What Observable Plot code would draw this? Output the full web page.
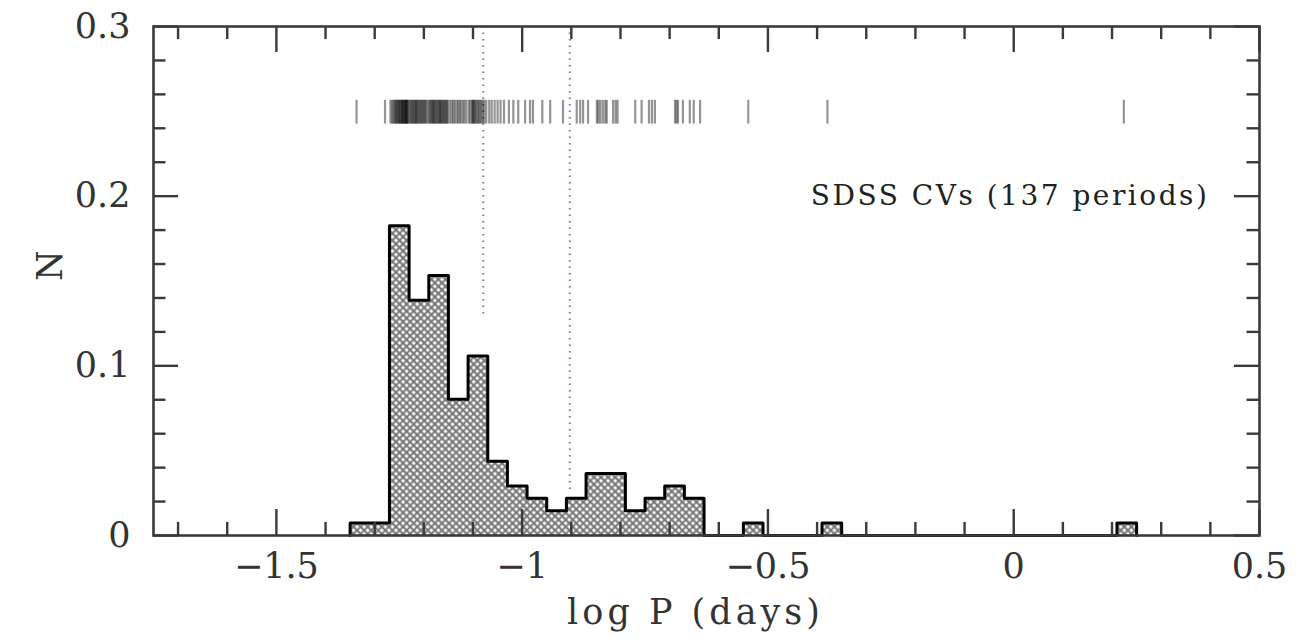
<!DOCTYPE html>
<html>
<head>
<meta charset="utf-8">
<script src="https://cdn.jsdelivr.net/npm/d3@7"></script>
<script src="https://cdn.jsdelivr.net/npm/@observablehq/plot@0.6"></script>
<style>
  html, body { margin: 0; padding: 0; background: #fff; }
</style>
</head>
<body>
<div id="chart"></div>
<script>
// ---- data ----
const binLeft = [-1.35,-1.31,-1.27,-1.23,-1.19,-1.15,-1.11,-1.07,-1.03,-0.99,-0.95,-0.91,-0.87,-0.83,-0.79,-0.75,-0.71,-0.67,-0.63,-0.59,-0.55,-0.51,-0.47,-0.43,-0.39,-0.35,-0.31,-0.27,-0.23,-0.19,-0.15,-0.11,-0.07,-0.03,0.01,0.05,0.09,0.13,0.17,0.21];
const binWidth = 0.04;
const binN = [0.0073,0.0073,0.1825,0.1387,0.1533,0.0803,0.1058,0.0438,0.0292,0.0219,0.0146,0.0219,0.0365,0.0365,0.0146,0.0219,0.0292,0.0219,0,0,0.0073,0,0,0,0.0073,0,0,0,0,0,0,0,0,0,0,0,0,0,0,0.0073];

// individual periods (log P, days) shown as the rug at the top
const periods = [
  -1.337, -1.279,
  -1.268,-1.265,-1.262,-1.260,-1.258,-1.256,-1.255,-1.253,-1.251,-1.250,-1.248,-1.247,-1.245,-1.244,-1.243,-1.242,-1.240,-1.239,-1.238,-1.237,-1.236,-1.235,-1.234,-1.232,-1.231,
  -1.228,-1.226,-1.224,-1.222,-1.220,-1.218,-1.216,-1.215,-1.213,-1.211,-1.209,-1.207,-1.205,-1.203,-1.201,-1.199,-1.197,-1.195,-1.192,
  -1.189,-1.187,-1.185,-1.183,-1.181,-1.180,-1.178,-1.176,-1.174,-1.172,-1.170,-1.168,-1.167,-1.165,-1.163,-1.161,-1.159,-1.157,-1.155,-1.153,-1.151,
  -1.147,-1.143,-1.140,-1.137,-1.133,-1.130,-1.127,-1.124,-1.120,-1.117,-1.113,
  -1.108,-1.105,-1.102,-1.100,-1.099,-1.097,-1.095,-1.093,-1.090,-1.088,-1.085,-1.083,-1.080,-1.077,-1.073,
  -1.067,-1.062,-1.056,-1.050,-1.044,-1.037,
  -1.027,-1.018,-1.008,-0.994,
  -0.984,-0.978,-0.959,
  -0.943,-0.917,
  -0.889,-0.882,-0.876,
  -0.866,-0.848,-0.845,-0.841,-0.836,
  -0.831,-0.828,-0.815,-0.810,-0.806,
  -0.770,-0.757,
  -0.742,-0.736,-0.730,
  -0.689,-0.686,-0.683,-0.673,
  -0.659,-0.651,-0.638,
  -0.540, -0.379, 0.224
];

// period gap boundaries (hours) and where their dotted lines stop (N)
const gapHours = [2, 3];
const gapLineBottom = [0.128, 0.025];

// axes
const xMajor = [-1.5, -1, -0.5, 0, 0.5];
const xTickLabels = ["\u22121.5", "\u22121", "\u22120.5", "0", "0.5"];
const xMinor = [-1.7,-1.6,-1.4,-1.3,-1.2,-1.1,-0.9,-0.8,-0.7,-0.6,-0.4,-0.3,-0.2,-0.1,0.1,0.2,0.3,0.4];
const yMajor = [0, 0.1, 0.2, 0.3];
const yTickLabels = ["0", "0.1", "0.2", "0.3"];
const yMinor = [0.02,0.04,0.06,0.08,0.12,0.14,0.16,0.18,0.22,0.24,0.26,0.28];
const xLabel = "log P (days)";
const yLabel = "N";
const annotation = "SDSS CVs (137 periods)";

// ---- derived tables ----
const bins = binLeft.map((x1, i) => ({x1, x2: x1 + binWidth, n: binN[i]}));
const stepPts = [{x: bins[0].x1, y: 0}, ...bins.map(b => ({x: b.x1, y: b.n})), {x: bins[bins.length - 1].x2, y: 0}];
const gaps = gapHours.map((h, i) => ({x: Math.log10(h / 24), y2: gapLineBottom[i]}));

const X0 = -1.75, X1 = 0.5, Y0 = 0, Y1 = 0.3;
const tickCol = "#3a3a3a";

const svg = Plot.plot({
  width: 1302,
  height: 642,
  marginLeft: 153,
  marginRight: 43,
  marginTop: 26,
  marginBottom: 107,
  style: {fontFamily: "'DejaVu Serif', serif", fontSize: "35px", color: "#333", background: "#fff"},
  x: {domain: [X0, X1]},
  y: {domain: [Y0, Y1]},
  marks: [
    // histogram
    Plot.areaY(stepPts, {x: "x", y: "y", curve: "step-after", fill: "url(#xhatch)"}),
    Plot.line(stepPts, {x: "x", y: "y", curve: "step-after", stroke: "#000", strokeWidth: 3}),
    // period gap lines
    Plot.ruleX(gaps, {x: "x", y1: Y1, y2: "y2", stroke: "#7f86b0", strokeWidth: 2.2, strokeDasharray: "1.5,5"}),
    // rug
    Plot.ruleX(periods, {x: d => d, y1: 0.2425, y2: 0.2565, stroke: "#000", strokeOpacity: 0.42, strokeWidth: 2.2}),
    // inward ticks, all four sides
    Plot.ruleX(xMajor, {x: d => d, y1: Y0, y2: Y0 + 0.0153, stroke: tickCol, strokeWidth: 2.4}),
    Plot.ruleX(xMajor, {x: d => d, y1: Y1, y2: Y1 - 0.0153, stroke: tickCol, strokeWidth: 2.4}),
    Plot.ruleX(xMinor, {x: d => d, y1: Y0, y2: Y0 + 0.0077, stroke: tickCol, strokeWidth: 2.4}),
    Plot.ruleX(xMinor, {x: d => d, y1: Y1, y2: Y1 - 0.0077, stroke: tickCol, strokeWidth: 2.4}),
    Plot.ruleY(yMajor, {y: d => d, x1: X0, x2: X0 + 0.051, stroke: tickCol, strokeWidth: 2.4}),
    Plot.ruleY(yMajor, {y: d => d, x1: X1, x2: X1 - 0.051, stroke: tickCol, strokeWidth: 2.4}),
    Plot.ruleY(yMinor, {y: d => d, x1: X0, x2: X0 + 0.0254, stroke: tickCol, strokeWidth: 2.4}),
    Plot.ruleY(yMinor, {y: d => d, x1: X1, x2: X1 - 0.0254, stroke: tickCol, strokeWidth: 2.4}),
    Plot.frame({stroke: tickCol, strokeWidth: 2.6}),
    // tick labels
    Plot.axisX(xMajor, {anchor: "bottom", tickSize: 0, tickPadding: 18, tickFormat: d => xTickLabels[xMajor.indexOf(d)], label: null}),
    Plot.axisY(yMajor, {anchor: "left", tickSize: 0, tickPadding: 23, tickFormat: d => yTickLabels[yMajor.indexOf(d)], label: null}),
    // axis titles & annotation
    Plot.text([xLabel], {frameAnchor: "bottom", dy: 88, dx: -11, fontSize: 35, fill: "#333"}),
    Plot.text([yLabel], {frameAnchor: "left", dx: -103, rotate: -90, fontSize: 35, fill: "#333"}),
    Plot.text([annotation], {x: 0.398, y: 0.2, textAnchor: "end", fontSize: 28, fill: "#222"})
  ]
});

// crosshatch pattern
const defs = d3.select(svg).insert("defs", ":first-child");
const pat = defs.append("pattern")
  .attr("id", "xhatch")
  .attr("patternUnits", "userSpaceOnUse")
  .attr("width", 5).attr("height", 5)
  .attr("patternTransform", "rotate(45)");
pat.append("rect").attr("width", 5).attr("height", 5).attr("fill", "#fff");
pat.append("path").attr("d", "M0,2.5H5M2.5,0V5").attr("stroke", "#707070").attr("stroke-width", 1.8);

// letter spacing on the wider labels
d3.select(svg).selectAll("text").each(function() {
  const t = this.textContent;
  if (t === xLabel) this.setAttribute("letter-spacing", "4");
  if (t === annotation) this.setAttribute("letter-spacing", "2.5");
});

document.getElementById("chart").appendChild(svg);
</script>
</body>
</html>
